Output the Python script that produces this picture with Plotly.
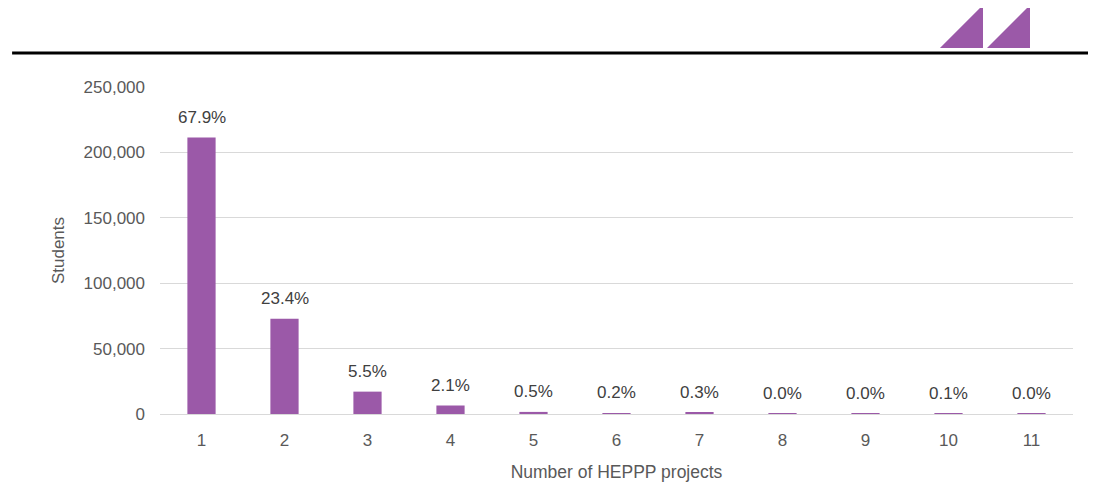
import plotly.graph_objects as go

projects = ["1", "2", "3", "4", "5", "6", "7", "8", "9", "10", "11"]
students = [211300, 72800, 17100, 6500, 1600, 650, 950, 80, 60, 300, 40]

total = sum(students)
labels = [f"{s / total * 100:.1f}%" for s in students]

purple = "#9B59A8"
font = "Liberation Sans, Arial, sans-serif"

fig = go.Figure()
fig.add_trace(go.Bar(
    x=projects,
    y=students,
    marker=dict(color=purple, line=dict(width=0)),
))

# percentage labels sit a bit higher above the bars than plotly's outside text
# (on a category axis annotations take the category index)
for i, (s, lab) in enumerate(zip(students, labels)):
    fig.add_annotation(x=i, y=s, text=lab, showarrow=False,
                       yanchor="bottom", yshift=9,
                       font=dict(size=17, color="#404040", family=font))

# page body adds an 8px offset, so the figure is drawn 8px smaller
fig.update_layout(
    width=1088, height=485,
    margin=dict(l=152, r=23, t=79, b=79),
    paper_bgcolor="white", plot_bgcolor="white",
    bargap=0.66,
    showlegend=False,
    font=dict(family=font, size=17, color="#595959"),
    xaxis=dict(
        type="category",
        title=dict(text="Number of HEPPP projects", font=dict(size=17.5), standoff=16),
        showgrid=False, showline=False, zeroline=False,
        ticklabelstandoff=14,
    ),
    yaxis=dict(
        range=[0, 250000], dtick=50000, tickformat=",",
        title=dict(text="Students", font=dict(size=17), standoff=14),
        showgrid=True, gridcolor="#d9d9d9", gridwidth=1,
        zeroline=True, zerolinecolor="#d9d9d9", zerolinewidth=1,
        showline=False, ticklabelstandoff=14,
    ),
    shapes=[
        # header rule
        dict(type="line", xref="paper", yref="paper",
             x0=-0.162, x1=1.03, y0=1.104, y1=1.104,
             line=dict(color="black", width=3)),
        # logo triangles
        dict(type="path", xref="paper", yref="paper",
             path="M 0.8543 1.1193 L 0.9014 1.1193 L 0.9014 1.2508 Z",
             fillcolor=purple, line=dict(width=0)),
        dict(type="path", xref="paper", yref="paper",
             path="M 0.9058 1.1193 L 0.9529 1.1193 L 0.9529 1.2508 Z",
             fillcolor=purple, line=dict(width=0)),
    ],
)

fig.write_html("out.html")
